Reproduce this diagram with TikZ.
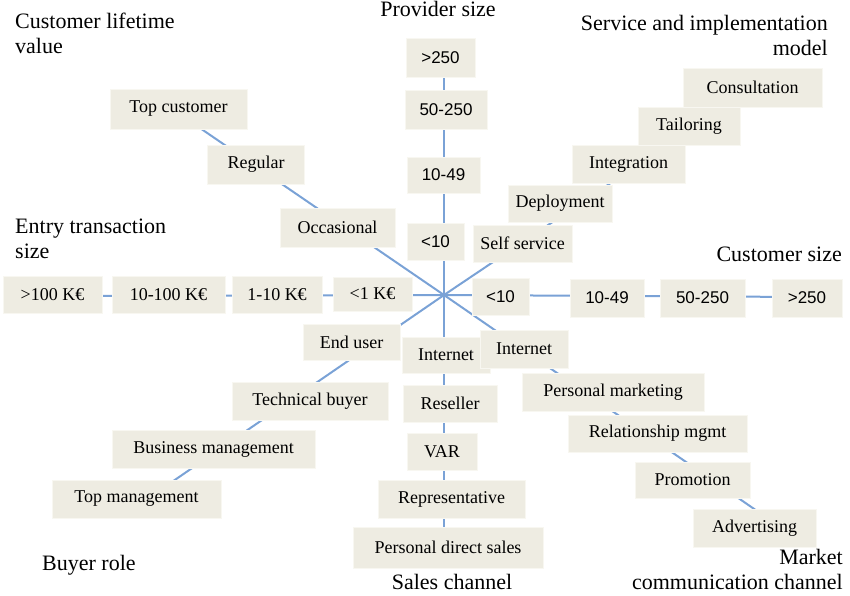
\documentclass[tikz,border=0pt]{standalone}
\usepackage{fontspec}
\setmainfont{Liberation Serif}
\newfontfamily\numfont{Liberation Sans}
\definecolor{boxfill}{RGB}{238,236,226}
\definecolor{boxedge}{RGB}{248,247,241}
\definecolor{axiscol}{RGB}{122,162,214}
\begin{document}
\begin{tikzpicture}[x=1pt,y=-1pt,
  box/.style={fill=boxfill, draw=boxedge, line width=1pt, inner sep=0pt, minimum height=38pt, font=\fontsize{18}{20}\selectfont},
  nbox/.style={box, font=\numfont\fontsize{17}{20}\selectfont},
  axis/.style={draw=axiscol, line width=2pt},
  title/.style={inner sep=0pt, font=\fontsize{22}{25}\selectfont}]
\useasboundingbox (0,0) rectangle (850,595);
% centre and axis ends
\coordinate (ctr) at (444,295);
\coordinate (pEnd) at (444,60);
\coordinate (lEnd) at (178,113);
\coordinate (sEnd) at (752,88);
\coordinate (cEnd) at (807,297);
\coordinate (eEnd) at (52,296);
\coordinate (bEnd) at (150,497);
\coordinate (scEnd) at (444,547);
\coordinate (mEnd) at (760,513);
\draw[axis] (ctr) -- (pEnd);
\draw[axis] (ctr) -- (lEnd);
\draw[axis] (ctr) -- (sEnd);
\draw[axis] (ctr) -- (cEnd);
\draw[axis] (ctr) -- (eEnd);
\draw[axis] (ctr) -- (bEnd);
\draw[axis] (ctr) -- (scEnd);
\draw[axis] (ctr) -- (mEnd);
% provider size
\node[nbox, minimum width=69pt, minimum height=39pt] (p4) at (440.5,57.5) {>250};
\node[nbox, minimum width=82pt, minimum height=39pt] (p3) at (446,109.5) {50-250};
\node[nbox, minimum width=73pt, minimum height=36pt] (p2) at (443.5,175) {10-49};
\node[nbox, minimum width=57pt, minimum height=37pt] (p1) at (435.5,241.5) {<10};
% customer lifetime value
\node[box, minimum width=137pt, minimum height=40pt] (l3) at (178.5,109) {Top customer};
\node[box, minimum width=97pt, minimum height=39pt] (l2) at (256,164.5) {Regular};
\node[box, minimum width=115pt, minimum height=39pt] (l1) at (337.5,227.5) {Occasional};
% service and implementation model
\node[box, minimum width=104pt, minimum height=37pt] (s2) at (560,203.5) {Deployment};
\node[box, minimum width=99pt, minimum height=37pt] (s1) at (522.5,243.5) {Self service};
\node[box, minimum width=113pt, minimum height=38pt] (s3) at (628.5,164) {Integration};
\node[box, minimum width=102pt, minimum height=38pt] (s4) at (689,126) {Tailoring};
\node[box, minimum width=139pt, minimum height=39pt] (s5) at (752.5,87.5) {Consultation};
% customer size
\node[nbox, minimum width=57pt, minimum height=37pt] (c1) at (500.5,296.5) {<10};
\node[nbox, minimum width=74pt] (c2) at (607,298) {10-49};
\node[nbox, minimum width=85pt] (c3) at (702.5,298) {50-250};
\node[nbox, minimum width=70pt] (c4) at (807,298) {>250};
% entry transaction size
\node[box, minimum width=79pt, minimum height=34pt] (e1) at (372.5,294) {<1 K€};
\node[box, minimum width=90pt, minimum height=37pt] (e2) at (277,295) {1-10 K€};
\node[box, minimum width=113pt, minimum height=37pt] (e3) at (168.5,295) {10-100 K€};
\node[box, minimum width=99pt, minimum height=37pt] (e4) at (52.5,294.5) {>100 K€};
% buyer role
\node[box, minimum width=97pt, minimum height=36pt] (b1) at (351.5,342) {End user};
\node[box, minimum width=156pt] (b2) at (310,401) {Technical buyer};
\node[box, minimum width=203pt] (b3) at (213.5,449) {Business management};
\node[box, minimum width=169pt] (b4) at (136.5,499) {Top management};
% sales channel
\node[box, minimum width=88pt, minimum height=36pt] (sc1) at (446,355) {Internet};
\node[box, minimum width=94pt, minimum height=37pt] (sc2) at (450,403.5) {Reseller};
\node[box, minimum width=70pt, minimum height=37pt] (sc3) at (442,451.5) {VAR};
\node[box, minimum width=147pt] (sc4) at (451.5,499) {Representative};
\node[box, minimum width=190pt, minimum height=41pt] (sc5) at (448,547.5) {Personal direct sales};
% market communication channel
\node[box, minimum width=88pt] (m1) at (524,349) {Internet};
\node[box, minimum width=182pt] (m2) at (613,392) {Personal marketing};
\node[box, minimum width=179pt, minimum height=37pt] (m3) at (657.5,433.5) {Relationship mgmt};
\node[box, minimum width=115pt, minimum height=36pt] (m4) at (692.5,480) {Promotion};
\node[box, minimum width=123pt] (m5) at (754.5,528) {Advertising};
% titles
\node[title, anchor=north west, align=left] (tLife) at (15,13) {Customer lifetime\\value};
\node[title, anchor=north] (tProv) at (438,1) {Provider size};
\node[title, anchor=north east, align=right] (tServ) at (828,15) {Service and implementation\\model};
\node[title, anchor=north west, align=left] (tEntry) at (15,219) {Entry transaction\\size};
\node[title, anchor=north east] (tCust) at (842,247) {Customer size};
\node[title, anchor=north west] (tBuyer) at (42,555) {Buyer role};
\node[title, anchor=south] (tSales) at (452,590) {Sales channel};
\node[title, anchor=south east, align=right] (tMkt) at (843,590) {Market\\communication channel};
\end{tikzpicture}
\end{document}
